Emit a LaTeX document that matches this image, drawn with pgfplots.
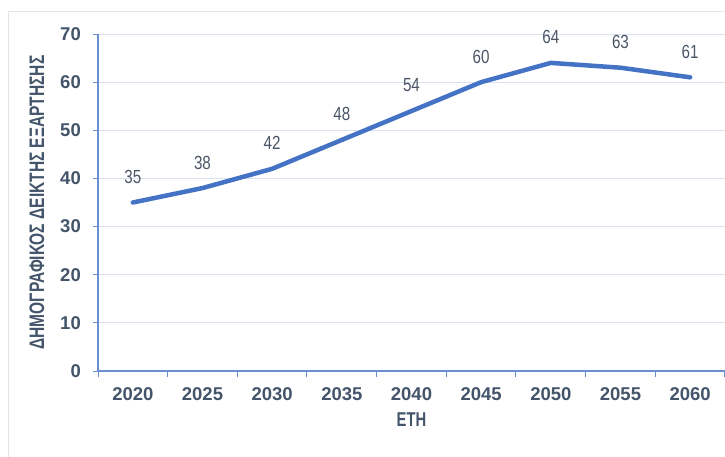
\documentclass[border=0pt]{standalone}
\usepackage{pgfplots}
\pgfplotsset{compat=1.18}
\usepackage{fontspec}
\setmainfont{Liberation Sans}
\newfontfamily\labelfont[FakeStretch=0.74]{Liberation Sans}
\newfontfamily\valfont[FakeStretch=0.8]{Liberation Sans}

\definecolor{linecol}{HTML}{4472C4}
\definecolor{txt}{HTML}{44546A}
\definecolor{valtxt}{HTML}{4A5566}
\definecolor{gridc}{HTML}{D9E1F2}
\definecolor{axisc}{HTML}{6A8ED2}
\definecolor{framec}{HTML}{E2E5EA}

\begin{document}
\begin{tikzpicture}[x=1pt,y=1pt]
\useasboundingbox (0,0) rectangle (725,456);
\begin{scope}
\clip (0,0) rectangle (725,456);
% chart area frame
\draw[framec, line width=1pt] (8,-5) -- (8,444) -- (740,444);
\begin{axis}[
  at={(98pt,85pt)}, anchor=south west,
  scale only axis, width=627pt, height=337pt,
  xmin=-0.5, xmax=8.5, ymin=0, ymax=70,
  /pgf/number format/assume math mode=true,
  xtick={0,...,8},
  xticklabels={2020,2025,2030,2035,2040,2045,2050,2055,2060},
  minor xtick={-0.5,0.5,...,8.5},
  ytick={0,10,...,70},
  tick align=outside,
  major tick length=5pt,
  minor tick length=6pt,
  x tick style={draw=none},
  minor x tick style={draw=axisc, line width=1pt},
  y tick style={draw=axisc, line width=1pt},
  axis x line*=bottom, axis y line*=left,
  x axis line style={draw=axisc, line width=1.2pt, -},
  y axis line style={draw=axisc, line width=1.2pt, -},
  ymajorgrids,
  major grid style={draw=gridc, line width=1pt},
  ticklabel style={font=\fontsize{18.5}{18.5}\selectfont\bfseries, text=txt, inner sep=0pt},
  yticklabel shift=12pt,
  xticklabel shift=11pt,
  ylabel={\labelfont\bfseries ΔΗΜΟΓΡΑΦΙΚΟΣ ΔΕΙΚΤΗΣ ΕΞΑΡΤΗΣΗΣ},
  ylabel style={at={(axis description cs:0,0.5)}, anchor=center, yshift=61pt,
    font=\fontsize{21}{21}\selectfont, text=txt, inner sep=0pt},
  xlabel={\labelfont\bfseries ΕΤΗ},
  xlabel style={at={(axis description cs:0.5,0)}, anchor=center, yshift=-49pt,
    font=\fontsize{20}{20}\selectfont, text=txt, inner sep=0pt},
  nodes near coords,
  every node near coord/.append style={anchor=center, yshift=25.5pt,
    font=\valfont\fontsize{19}{19}\selectfont, text=valtxt, inner sep=0pt},
  clip=false,
]
\addplot[linecol, line width=4.5pt, line join=round, line cap=round] coordinates {
  (0,35) (1,38) (2,42) (3,48) (4,54) (5,60) (6,64) (7,63) (8,61)
};
\end{axis}
\end{scope}
\end{tikzpicture}
\end{document}
